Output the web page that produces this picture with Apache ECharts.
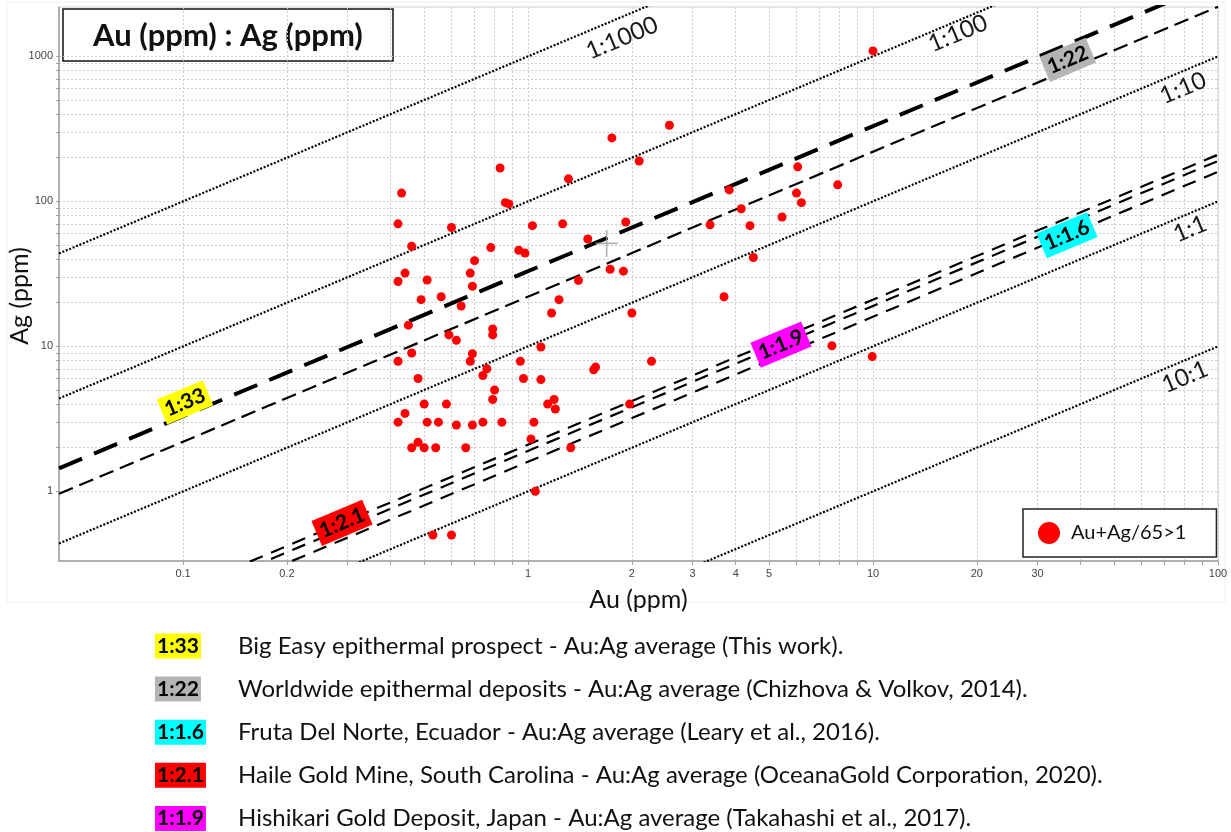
<!DOCTYPE html>
<html>
<head>
<meta charset="utf-8">
<script src="https://cdn.jsdelivr.net/npm/echarts@6/dist/echarts.min.js"></script>
<style>
  html, body { margin: 0; padding: 0; background: #ffffff; }
  #chart { width: 1231px; height: 832px; }
</style>
</head>
<body>
<div id="chart"></div>
<script>
// ---- Sample assays (ppm) ----
const auPpm = [
  0.43, 0.42, 0.60, 0.46, 0.78, 0.94, 0.98, 0.70, 0.44, 0.42,
  0.51, 0.68, 0.69, 0.49, 0.56, 0.64, 0.45, 0.59, 0.62, 0.79,
  0.79, 0.46, 0.42, 0.69, 0.68, 0.95, 0.76, 0.83, 0.86, 0.88,
  1.03, 0.74, 0.48, 0.97, 0.80, 0.79, 0.50, 0.58, 0.44, 0.42,
  0.51, 0.55, 0.62, 0.69, 0.74, 0.84, 1.04, 0.48, 0.46, 0.50,
  0.54, 0.66, 1.02, 1.05, 0.53, 0.60, 1.23, 1.17, 2.0, 3.7,
  1.09, 1.09, 1.55, 1.57, 2.28, 1.14, 1.19, 1.20, 1.97, 1.33,
  2.57, 1.75, 2.1, 1.31, 1.26, 1.92, 1.49, 3.37, 3.83, 1.73,
  1.89, 1.40, 10, 6.05, 7.9, 6.0, 6.2, 4.15, 4.4, 5.45,
  4.5, 7.6, 9.95
];
const agPpm = [
  114, 70, 66, 49, 48, 46, 44, 39, 32, 28,
  28.7, 32, 26, 21, 22, 19, 14, 12, 11, 13.2,
  12, 9.0, 7.9, 8.9, 7.9, 7.9, 7.0, 170, 98, 96,
  68, 6.3, 6.0, 6.0, 5.0, 4.3, 4.0, 4.0, 3.45, 3.0,
  3.0, 3.0, 2.87, 2.87, 3.0, 3.0, 3.0, 2.18, 2.0, 2.0,
  2.0, 2.0, 2.3, 1.0, 0.5, 0.5, 21, 17, 17, 22,
  9.9, 5.9, 6.9, 7.2, 7.9, 4.0, 4.3, 3.7, 4.0, 2.0,
  335, 274, 190, 143, 70, 72, 55, 69, 120, 34,
  33, 28.5, 1090, 173, 130, 114, 98, 89, 68, 78,
  41, 10.1, 8.5
];
const sampleName = 'Au+Ag/65>1';

// Mean of the sample set (Au, Ag)
const meanPoint = [1.69, 51.3];

// ---- Reference Au:Ag ratio lines (Ag = ratio × Au) ----
const refRatios = [1000, 100, 10, 1, 0.1];
const refLabels = ['1:1000', '1:100', '1:10', '1:1', '10:1'];

// ---- Deposit average Au:Ag ratios ----
const depositLabels = ['1:33', '1:22', '1:1.6', '1:2.1', '1:1.9'];
const depositRatios = [33, 22, 1.6, 2.1, 1.9];
const depositNotes = [
  'Big Easy epithermal prospect - Au:Ag average (This work).',
  'Worldwide epithermal deposits - Au:Ag average (Chizhova & Volkov, 2014).',
  'Fruta Del Norte, Ecuador - Au:Ag average (Leary et al., 2016).',
  'Haile Gold Mine, South Carolina - Au:Ag average (OceanaGold Corporation, 2020).',
  'Hishikari Gold Deposit, Japan - Au:Ag average (Takahashi et al., 2017).'
];

// ---- Axis tick labels ----
const xTickLabels = [0.1, 0.2, 1, 2, 3, 4, 5, 10, 20, 30, 100];
const yTickLabels = [1, 10, 100, 1000];

// ================= presentation =================
const X_MIN = 0.0437, X_MAX = 100;
const Y_MIN = 0.331, Y_MAX = 2190;
const FONT = 'Lato, "Open Sans", sans-serif';
const SLOPE_RAD = 22.8 * Math.PI / 180;

const depositColors = ['#ffff00', '#b4b4b4', '#00ffff', '#ff0000', '#ff00ff'];
const depositLineStyles = [
  { width: 4, type: [25, 13] },
  { width: 2.2, type: [15, 7] },
  { width: 2.2, type: [14, 9] },
  { width: 2.2, type: [14, 9] },
  { width: 2.2, type: [14, 9] }
];
// Where along each deposit line its tag sits (Au value) and a small screen nudge (px)
const depositTagAu = [0.1013, 36.7, 36.5, 0.289, 5.41];
const depositTagNudge = [[0, -13], [0, -10], [0, 0], [0, 0], [0, 0]];
// Reference-line caption anchors (Au, Ag)
const refTagAnchors = [[1.873, 1337], [17.63, 1440], [79.2, 604], [83.0, 64.5], [80.2, 6.14]];

// Minor grid positions 1..9 × each decade
function decadeGrid(fromExp, toExp) {
  const out = [];
  for (let e = fromExp; e < toExp; e++) {
    for (let m = 1; m <= 9; m++) out.push(+(m * Math.pow(10, e)).toPrecision(6));
  }
  out.push(Math.pow(10, toExp));
  return out;
}
const xGrid = decadeGrid(-1, 2);
const yGrid = decadeGrid(0, 3);

const fmt = v => String(+(+v).toPrecision(4));

const series = [];

// Reference dotted lines
refRatios.forEach((r, i) => {
  series.push({
    type: 'line', name: refLabels[i], silent: true, symbol: 'none', clip: true,
    data: [[X_MIN, r * X_MIN], [X_MAX, r * X_MAX]],
    lineStyle: { color: '#000', width: 2.2, type: [2, 1.7] },
    z: 3
  });
});

// Deposit dashed lines
depositRatios.forEach((r, i) => {
  series.push({
    type: 'line', name: depositLabels[i], silent: true, symbol: 'none', clip: true,
    data: [[X_MIN, r * X_MIN], [X_MAX, r * X_MAX]],
    lineStyle: Object.assign({ color: '#000' }, depositLineStyles[i]),
    z: 3
  });
});

// Samples
series.push({
  type: 'scatter', name: sampleName,
  data: auPpm.map((au, i) => [au, agPpm[i]]),
  symbol: 'circle', symbolSize: 9,
  itemStyle: { color: '#ff0000', opacity: 1 },
  z: 5
});

// Mean marker
series.push({
  type: 'scatter', name: 'mean', silent: true,
  data: [meanPoint],
  symbol: 'path://M10.2,0H11.8V27H10.2Z M0,12.7H22V14.3H0Z',
  symbolSize: [22, 27],
  itemStyle: { color: '#9a9a9a' },
  z: 4
});

// Rotated text placed at data coordinates, parallel to the ratio lines
function textSeries(name, points, makeStyle, nudges, z) {
  return {
    type: 'custom', name: name, silent: true, clip: false,
    coordinateSystem: 'cartesian2d',
    encode: { x: 0, y: 1 },
    data: points.map((p, i) => [p[0], p[1], i]),
    renderItem: function (params, api) {
      const i = api.value(2);
      const pt = api.coord([api.value(0), api.value(1)]);
      const d = nudges ? nudges[i] : [0, 0];
      return {
        type: 'text',
        x: pt[0] + d[0], y: pt[1] + d[1],
        rotation: SLOPE_RAD,
        style: makeStyle(i)
      };
    },
    z: z
  };
}

series.push(textSeries(
  'refTags', refTagAnchors,
  i => ({
    text: refLabels[i], fill: '#1a1a1a', font: '24px ' + FONT,
    align: 'center', verticalAlign: 'middle'
  }),
  null, 6
));

series.push(textSeries(
  'depositTags', depositTagAu.map((au, i) => [au, depositRatios[i] * au]),
  i => ({
    text: depositLabels[i], fill: '#000', font: 'bold 21px ' + FONT,
    backgroundColor: depositColors[i], padding: [4, 4, 2, 4],
    align: 'center', verticalAlign: 'middle'
  }),
  depositTagNudge, 7
));

// Bottom explanatory list
const listGraphics = [];
const rowY0 = 646, rowStep = 43.1;
depositLabels.forEach((t, i) => {
  const y = rowY0 + i * rowStep;
  listGraphics.push({
    type: 'text', x: 155, y: y,
    style: {
      text: t, fill: '#000', font: 'bold 21px ' + FONT,
      backgroundColor: depositColors[i], padding: [3, 2, 1, 2],
      verticalAlign: 'middle', align: 'left'
    }
  });
  listGraphics.push({
    type: 'text', x: 238, y: y,
    style: {
      text: depositNotes[i], fill: '#111', font: '24px ' + FONT,
      verticalAlign: 'middle', align: 'left'
    }
  });
});

const option = {
  backgroundColor: '#ffffff',
  animation: false,
  grid: {
    left: 59, right: 13, top: 7, bottom: 271,
    outerBoundsMode: 'none', containLabel: false,
    show: true, borderColor: '#cfcfcf', borderWidth: 1, backgroundColor: 'transparent'
  },
  xAxis: {
    type: 'log', logBase: 10, min: X_MIN, max: X_MAX,
    axisLine: { show: true, lineStyle: { color: '#a0a0a0', width: 1.5 } },
    axisTick: { show: true, customValues: xGrid, length: 4, lineStyle: { color: '#a0a0a0' } },
    axisLabel: {
      customValues: xTickLabels, formatter: fmt, margin: 7,
      fontFamily: '"Liberation Sans", Arial, sans-serif', fontSize: 11, color: '#444'
    },
    splitLine: { show: true, lineStyle: { color: '#cdcdcd', width: 1, type: [2, 2] } },
    name: 'Au (ppm)', nameLocation: 'middle', nameGap: 26, nameMoveOverlap: false,
    nameTextStyle: { fontFamily: FONT, fontSize: 25, color: '#111' }
  },
  yAxis: {
    type: 'log', logBase: 10, min: Y_MIN, max: Y_MAX,
    axisLine: { show: true, lineStyle: { color: '#a0a0a0', width: 1.5 } },
    axisTick: { show: true, customValues: yGrid, length: 3, lineStyle: { color: '#a0a0a0' } },
    axisLabel: {
      customValues: yTickLabels, formatter: fmt, margin: 6,
      fontFamily: '"Liberation Sans", Arial, sans-serif', fontSize: 11, color: '#444'
    },
    splitLine: { show: true, lineStyle: { color: '#cdcdcd', width: 1, type: [2, 2] } },
    name: 'Ag (ppm)', nameLocation: 'middle', nameGap: 27, nameRotate: 90, nameMoveOverlap: false,
    nameTextStyle: { fontFamily: FONT, fontSize: 25, color: '#111', padding: [0, 24, 0, 0] }
  },
  legend: {
    data: [{ name: sampleName, icon: 'circle' }],
    left: 1023, top: 509, orient: 'vertical',
    itemWidth: 22, itemHeight: 22,
    padding: [13, 30, 13, 15],
    borderColor: '#222', borderWidth: 1.5, backgroundColor: '#fff',
    textStyle: { fontFamily: FONT, fontSize: 20, color: '#111', padding: [0, 0, 0, 6] },
    selectedMode: false
  },
  graphic: [
    {
      type: 'rect', silent: true, z: -1,
      shape: { x: 7, y: 2, width: 1218, height: 600 },
      style: { fill: 'none', stroke: '#eeeeee', lineWidth: 1 }
    },
    {
      type: 'group', z: 100,
      children: [
        {
          type: 'rect',
          shape: { x: 63, y: 9, width: 330, height: 52 },
          style: { fill: '#fff', stroke: '#111', lineWidth: 1.5 }
        },
        {
          type: 'text', x: 228, y: 36,
          style: {
            text: 'Au (ppm) : Ag (ppm)', font: 'bold 31px ' + FONT, fill: '#111',
            align: 'center', verticalAlign: 'middle'
          }
        }
      ]
    }
  ].concat(listGraphics),
  series: series
};

const chart = echarts.init(document.getElementById('chart'), null, { renderer: 'canvas' });
chart.setOption(option);
</script>
</body>
</html>
